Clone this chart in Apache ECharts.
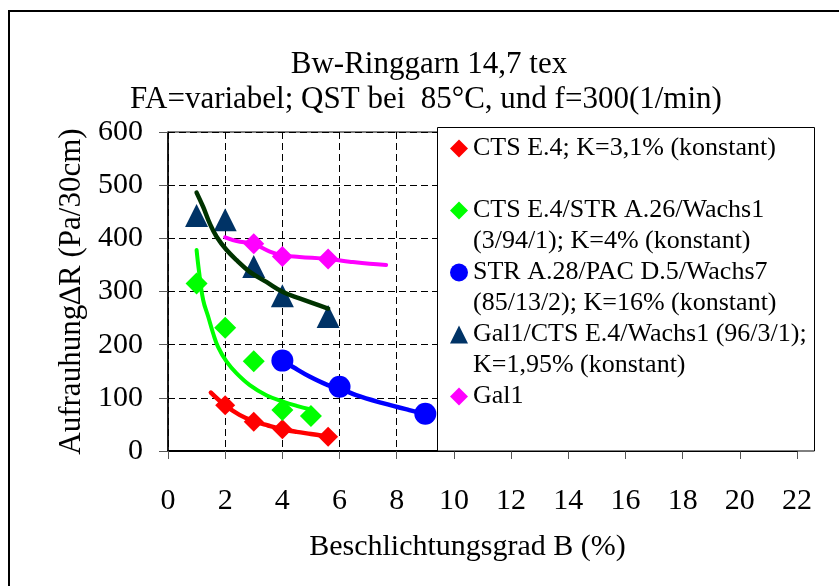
<!DOCTYPE html>
<html>
<head>
<meta charset="utf-8">
<script src="https://cdn.jsdelivr.net/npm/echarts@6/dist/echarts.min.js"></script>
<style>
  html, body { margin: 0; padding: 0; background: #ffffff; }
  #chart { width: 839px; height: 586px; }
</style>
</head>
<body>
<div id="chart"></div>
<script>
const FONT = '"Liberation Serif", "Times New Roman", Times, serif';

// Chart texts
const titleLine1 = 'Bw-Ringgarn 14,7 tex';
const titleLine2 = 'FA=variabel; QST bei  85°C, und f=300(1/min)';
const xAxisTitle = 'Beschlichtungsgrad B (%)';
const yAxisTitle = 'Aufrauhung\u2206R (Pa/30cm)';

// Axis ranges
const xMin = 0, xMax = 22, xStep = 2;
const yMin = 0, yMax = 600, yStep = 100;

// Series names (legend entries)
const seriesNames = [
  'CTS E.4; K=3,1% (konstant)',
  'CTS E.4/STR A.26/Wachs1\n(3/94/1); K=4% (konstant)',
  'STR A.28/PAC D.5/Wachs7\n(85/13/2); K=16% (konstant)',
  'Gal1/CTS E.4/Wachs1 (96/3/1);\nK=1,95% (konstant)',
  'Gal1'
];

// Measured values: B (%) and Aufrauhung (Pa/30cm)
const ctsX = [2, 3, 4, 5.6];
const ctsY = [86, 55, 41, 27];

const ctsStrX = [1, 2, 3, 4, 5];
const ctsStrY = [315, 232, 169, 77, 66];

const strPacX = [4, 6, 9];
const strPacY = [170, 121, 70];

const galCtsX = [1, 2, 3, 4, 5.6];
const galCtsY = [443, 435, 347, 292, 253];

const galX = [3, 4, 5.6];
const galY = [390, 366, 361];

// Trend curves
const ctsFitX = [1.5, 2, 2.5, 3, 3.5, 4, 4.5, 5, 5.6];
const ctsFitY = [110, 86, 68, 56, 48, 41, 36, 32, 27];

const ctsStrFitX = [1, 1.08, 1.23, 1.41, 1.58, 1.75, 2.05, 2.4, 2.86, 3.44, 4.02, 4.5, 5];
const ctsStrFitY = [378, 340, 284, 252, 221, 196, 168, 146, 124, 105, 93, 85, 78];

const strPacFitX = [4, 4.37, 4.95, 5.59, 6, 6.58, 7.51, 8.44, 9];
const strPacFitY = [170, 158, 140, 124, 118, 105, 90, 77, 70];

const galCtsFitX = [1, 1.23, 1.46, 1.7, 2.05, 2.4, 2.86, 3.44, 4.02, 4.6, 5.6];
const galCtsFitY = [486, 459, 428, 403, 378, 359, 337, 318, 299, 287, 268];

const galFitX = [2, 2.4, 3, 3.56, 4, 4.6, 5.6, 6.35, 7.05, 7.63];
const galFitY = [402, 395, 389, 375, 368, 365, 361, 356, 352, 350];

const zip = (xs, ys) => xs.map((x, i) => [x, ys[i]]);

function markers(name, xs, ys, symbol, size, color) {
  return {
    name: name, type: 'scatter', data: zip(xs, ys),
    symbol: symbol, symbolSize: size,
    itemStyle: { color: color, opacity: 1 },
    z: 2, silent: true
  };
}
function trend(name, xs, ys, color, width) {
  return {
    name: name, type: 'line', data: zip(xs, ys),
    smooth: 0.4, showSymbol: false, symbol: 'none',
    lineStyle: { color: color, width: width, cap: 'round', join: 'round' },
    z: 3, silent: true
  };
}

const chart = echarts.init(document.getElementById('chart'), null, { renderer: 'canvas' });

chart.setOption({
  backgroundColor: '#ffffff',
  animation: false,
  textStyle: { fontFamily: FONT },
  grid: {
    left: 168, right: 42, top: 132, bottom: 135,
    show: true, borderColor: '#000000', borderWidth: 1, backgroundColor: '#ffffff'
  },
  xAxis: {
    type: 'value', min: xMin, max: xMax, interval: xStep,
    name: xAxisTitle, nameLocation: 'middle', nameGap: 81,
    nameTextStyle: { fontFamily: FONT, fontSize: 30, color: '#000', padding: [0, 30, 0, 0] },
    axisLine: { show: true, lineStyle: { color: '#000', width: 2 } },
    axisTick: { show: true, inside: false, length: 8, lineStyle: { color: '#555', width: 1 } },
    axisLabel: { fontFamily: FONT, fontSize: 30, color: '#000', margin: 35 },
    splitLine: { show: true, lineStyle: { color: '#000', width: 1, type: [7, 4] } }
  },
  yAxis: {
    type: 'value', min: yMin, max: yMax, interval: yStep,
    name: yAxisTitle, nameLocation: 'middle', nameGap: 81,
    nameTextStyle: { fontFamily: FONT, fontSize: 31, color: '#000' },
    axisLine: { show: true, lineStyle: { color: '#000', width: 1.5 } },
    axisTick: { show: true, inside: false, length: 9, lineStyle: { color: '#555', width: 1 } },
    axisLabel: { fontFamily: FONT, fontSize: 30, color: '#000', margin: 25 },
    splitLine: { show: true, lineStyle: { color: '#000', width: 1, type: [7, 4] } }
  },
  legend: {
    data: seriesNames,
    orient: 'vertical',
    left: 450, top: 102,
    padding: 0,
    itemGap: -31,
    itemWidth: 18, itemHeight: 18,
    selectedMode: false,
    z: 10,
    textStyle: { fontFamily: FONT, fontSize: 26, lineHeight: 31, color: '#000' },
    formatter: function (name) {
      return '\n' + name + (name.indexOf('\n') >= 0 ? '' : '\n');
    }
  },
  graphic: {
    elements: [
      {
        type: 'rect', z: 5, silent: true,
        shape: { x: 437.5, y: 127.5, width: 377, height: 323.5 },
        style: { fill: '#ffffff', stroke: '#000000', lineWidth: 1 }
      },
      {
        type: 'rect', z: 1, silent: true,
        shape: { x: 9, y: 11, width: 850, height: 600 },
        style: { fill: null, stroke: '#000000', lineWidth: 2 }
      },
      {
        type: 'text', z: 5, silent: true, x: 429, y: 65,
        style: { text: titleLine1, font: '31px ' + FONT, fill: '#000',
                 textAlign: 'center', textVerticalAlign: 'middle' }
      },
      {
        type: 'text', z: 5, silent: true, x: 426, y: 100,
        style: { text: titleLine2, font: '31px ' + FONT, fill: '#000',
                 textAlign: 'center', textVerticalAlign: 'middle' }
      }
    ]
  },
  series: [
    markers(seriesNames[0], ctsX, ctsY, 'diamond', 20, '#FF0000'),
    markers(seriesNames[1], ctsStrX, ctsStrY, 'diamond', 22, '#00FF00'),
    markers(seriesNames[2], strPacX, strPacY, 'circle', 22, '#0000FF'),
    markers(seriesNames[3], galCtsX, galCtsY, 'triangle', 23, '#003366'),
    markers(seriesNames[4], galX, galY, 'diamond', 21, '#FF00FF'),
    trend('Trend CTS', ctsFitX, ctsFitY, '#FF0000', 4.5),
    trend('Trend CTS/STR', ctsStrFitX, ctsStrFitY, '#00FF00', 4),
    trend('Trend STR/PAC', strPacFitX, strPacFitY, '#0000FF', 4.5),
    trend('Trend Gal1/CTS', galCtsFitX, galCtsFitY, '#003300', 4.5),
    trend('Trend Gal1', galFitX, galFitY, '#FF00FF', 4)
  ]
});
</script>
</body>
</html>
